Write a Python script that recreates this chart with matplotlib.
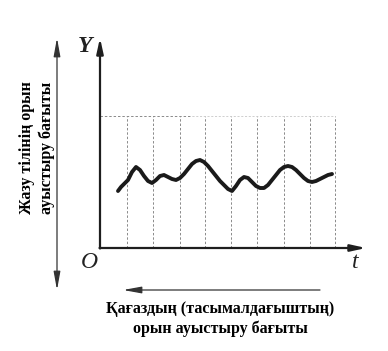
import numpy as np
import matplotlib
matplotlib.use('Agg')
import matplotlib.pyplot as plt

# recorder trace, diagram units (1 unit = 10 px)
trace_t = [1.8, 2.1, 2.4, 2.8, 3.2, 3.6, 4.0, 4.4, 4.8, 5.2, 5.6, 6.0, 6.4, 6.8,
           7.2, 7.6, 8.0, 8.4, 8.8, 9.2, 9.6, 10.0, 10.4, 10.8, 11.2, 11.6, 12.0,
           12.4, 12.8, 13.2, 13.6, 14.0, 14.4, 14.8, 15.2, 15.6, 16.0, 16.4, 16.8,
           17.2, 17.6, 18.0, 18.4, 18.8, 19.2, 19.6, 20.0, 20.4, 20.8, 21.2, 21.6,
           22.0, 22.4, 22.8, 23.2]
trace_y = [5.7, 6.1, 6.4, 6.8, 7.6, 8.1, 7.8, 7.2, 6.7, 6.5, 6.8, 7.2, 7.3, 7.1,
           6.9, 6.8, 7.0, 7.4, 7.9, 8.4, 8.7, 8.8, 8.6, 8.2, 7.7, 7.2, 6.7,
           6.3, 5.9, 5.7, 6.2, 6.8, 7.1, 7.0, 6.6, 6.2, 6.0, 6.0, 6.3,
           6.8, 7.3, 7.8, 8.1, 8.2, 8.1, 7.8, 7.4, 7.0, 6.7, 6.6, 6.7,
           6.9, 7.1, 7.3, 7.4]

grid_t = [2.7, 5.3, 8.0, 10.5, 13.1, 15.7, 18.4, 21.0, 23.5]
grid_top = 13.2

left_label = "Жазу тілінің орын\nауыстыру бағыты"
bottom_label = "Қағаздың (тасымалдағыштың)\nорын ауыстыру бағыты"

serif = ['Liberation Serif', 'DejaVu Serif']

fig = plt.figure(figsize=(3.88, 3.51), dpi=100)
ax = fig.add_axes([0, 0, 1, 1])
ax.set_xlim(-10, 28.8)
ax.set_ylim(-10.3, 24.8)
ax.axis('off')

# dashed grid
for g in grid_t:
    ax.plot([g, g], [0, grid_top], color='#8a8a8a', lw=0.7, ls=(0, (2.5, 2)))
ax.plot([0, 9.2], [grid_top, grid_top], color='#8a8a8a', lw=0.7, ls=(0, (2.5, 2)))
ax.plot([9.2, 23.5], [grid_top, grid_top], color='#c8c8c8', lw=0.6, ls=(0, (2.5, 2)))

# axes with arrows
akw = dict(arrowstyle='-|>,head_length=0.9,head_width=0.2', color='#1e1e1e', lw=1.6,
           shrinkA=0, shrinkB=0)
ax.annotate('', xy=(0, 21.0), xytext=(0, -0.05), arrowprops=akw)
ax.annotate('', xy=(26.6, 0), xytext=(-0.05, 0), arrowprops=akw)

# trace
ax.plot(trace_t, trace_y, color='#1a1a1a', lw=2.8, solid_capstyle='round',
        solid_joinstyle='round')

# side arrows
ax.annotate('', xy=(-4.3, 21.0), xytext=(-4.3, -4.2),
            arrowprops=dict(arrowstyle='<|-|>,head_length=1.1,head_width=0.2',
                            color='#333333', lw=0.9, shrinkA=0, shrinkB=0))
ax.annotate('', xy=(2.3, -4.2), xytext=(22.0, -4.2),
            arrowprops=dict(arrowstyle='-|>,head_length=1.1,head_width=0.2',
                            color='#333333', lw=0.9, shrinkA=0, shrinkB=0))

# letters
ax.text(-1.5, 20.1, 'Y', family=serif, style='italic', weight='bold', fontsize=17,
        ha='center', va='center', color='#222222')
ax.text(-1.1, -1.5, 'O', family=serif, style='italic', fontsize=17,
        ha='center', va='center', color='#222222')
ax.text(25.5, -1.5, 't', family=serif, style='italic', fontsize=17,
        ha='center', va='center', color='#222222')

ax.text(-6.3, 10.0, left_label, family=serif, weight='bold', fontsize=11.5,
        rotation=90, ha='center', va='center', multialignment='center',
        linespacing=1.3, color='black')
ax.text(12.0, -7.1, bottom_label, family=serif, weight='bold', fontsize=11.5,
        ha='center', va='center', multialignment='center',
        linespacing=1.25, color='black')

fig.savefig('out.png', dpi=100)
